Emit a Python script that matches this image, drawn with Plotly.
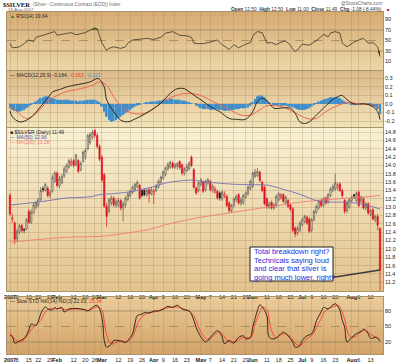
import plotly.graph_objects as go
import numpy as np

# ---------------- data ----------------
# x positions are trading-day indices (0 = 3-Jan-2007 ... 157 = 17-Aug-2007)
tick_idx = [0, 3, 8, 12, 17, 20, 27, 32, 36, 39, 46, 51, 56, 61, 65, 70, 75, 81, 85, 90, 95, 100,
            103, 109, 114, 119, 124, 128, 133, 138, 145, 148, 153]
tick_txt = ['<b>2007</b>', '8', '15', '22', '29', '<b>Feb</b>', '12', '20', '26', '<b>Mar</b>', '12', '19', '26',
            '<b>Apr</b>', '9', '16', '23', '<b>May</b>', '7', '14', '21', '29', '<b>Jun</b>', '11', '18', '25',
            '<b>Jul</b>', '9', '16', '23', '<b>Aug</b>', '6', '13']

open_ = [13.28, 12.70, 12.62, 12.25, 12.40, 12.56, 12.47, 12.48, 12.90, 12.64,
         12.86, 13.00, 13.05, 13.18, 13.45, 13.40, 13.46, 13.28, 13.38, 13.62,
         13.82, 13.52, 13.58, 13.75, 13.85, 13.96, 14.02, 14.12, 14.02, 14.12,
         13.90, 14.10, 14.20, 14.40, 14.55, 14.68, 14.84, 14.72, 14.46, 14.20,
         13.78, 13.02, 12.90, 13.10, 13.22, 13.04, 13.05, 13.16, 12.98, 13.05,
         13.18, 13.28, 13.36, 13.42, 13.50, 13.52, 13.40, 13.40, 13.30, 13.42,
         13.32, 13.30, 13.40, 13.48, 13.60, 13.70, 13.78, 13.92, 13.96, 14.06,
         13.96, 13.98, 14.10, 14.02, 13.80, 13.88, 13.92, 14.20, 13.90, 13.46,
         13.40, 13.55, 13.60, 13.42, 13.58, 13.62, 13.40, 13.36, 13.38, 13.34,
         13.20, 13.26, 13.26, 13.10, 12.92, 13.04, 13.18, 13.30, 13.10, 13.10,
         13.24, 13.32, 13.44, 13.50, 13.74, 13.76, 13.84, 13.60, 13.48, 13.20,
         13.00, 13.12, 12.98, 13.05, 13.18, 13.22, 13.30, 13.10, 13.16, 13.05,
         12.96, 12.50, 12.38, 12.45, 12.58, 12.66, 12.76, 12.72, 12.45, 12.70,
         12.88, 12.98, 13.16, 13.04, 13.22, 13.12, 13.28, 13.40, 13.44, 13.46,
         13.56, 13.40, 13.16, 12.92, 13.00, 13.16, 13.30, 13.16, 13.36, 13.14,
         13.20, 12.98, 13.08, 12.82, 12.94, 12.70, 12.78, 12.50]
high_ = [13.34, 12.85, 12.66, 12.48, 12.60, 12.60, 12.50, 12.74, 12.95, 12.95,
         13.12, 13.15, 13.22, 13.48, 13.50, 13.58, 13.50, 13.42, 13.78, 13.86,
         13.86, 13.75, 13.80, 13.98, 14.05, 14.16, 14.18, 14.16, 14.28, 14.15,
         14.10, 14.36, 14.42, 14.76, 14.80, 14.86, 14.88, 14.78, 14.50, 14.25,
         13.82, 13.10, 13.22, 13.28, 13.26, 13.20, 13.22, 13.20, 13.14, 13.26,
         13.36, 13.42, 13.52, 13.58, 13.64, 13.56, 13.44, 13.45, 13.44, 13.46,
         13.48, 13.45, 13.55, 13.66, 13.76, 13.88, 13.98, 14.08, 14.12, 14.10,
         14.06, 14.08, 14.12, 14.05, 13.96, 14.04, 14.10, 14.24, 13.94, 13.50,
         13.62, 13.70, 13.64, 13.66, 13.70, 13.66, 13.55, 13.50, 13.42, 13.38,
         13.40, 13.38, 13.30, 13.14, 13.08, 13.24, 13.30, 13.34, 13.24, 13.32,
         13.38, 13.52, 13.66, 13.86, 13.92, 13.94, 13.88, 13.64, 13.52, 13.24,
         13.14, 13.16, 13.10, 13.30, 13.36, 13.34, 13.34, 13.28, 13.20, 13.08,
         13.00, 12.54, 12.55, 12.66, 12.75, 12.82, 12.80, 12.76, 12.74, 12.94,
         13.06, 13.18, 13.20, 13.24, 13.26, 13.34, 13.48, 13.55, 13.80, 13.60,
         13.60, 13.44, 13.20, 13.16, 13.22, 13.28, 13.32, 13.38, 13.40, 13.28,
         13.24, 13.12, 13.12, 12.96, 12.98, 12.82, 12.84, 12.50]
low_ = [12.80, 12.62, 12.11, 12.18, 12.36, 12.40, 12.38, 12.45, 12.60, 12.60,
        12.84, 12.95, 13.00, 13.15, 13.36, 13.38, 13.24, 13.22, 13.35, 13.58,
        13.48, 13.45, 13.55, 13.70, 13.82, 13.92, 13.98, 13.95, 13.98, 13.82,
        13.86, 14.06, 14.14, 14.36, 14.50, 14.62, 14.66, 14.40, 14.10, 13.60,
        12.98, 12.52, 12.85, 13.04, 13.00, 12.98, 13.00, 12.92, 12.66, 13.00,
        13.15, 13.24, 13.32, 13.38, 13.45, 13.18, 13.24, 13.26, 13.25, 13.10,
        13.28, 13.08, 13.36, 13.45, 13.56, 13.66, 13.74, 13.88, 13.92, 13.92,
        13.92, 13.90, 13.90, 13.76, 13.76, 13.84, 13.88, 13.96, 13.44, 13.30,
        13.36, 13.50, 13.34, 13.38, 13.52, 13.38, 13.35, 13.32, 13.18, 13.16,
        13.15, 13.22, 13.00, 12.86, 12.86, 13.00, 13.12, 13.06, 13.04, 13.06,
        13.20, 13.28, 13.40, 13.46, 13.70, 13.72, 13.60, 13.36, 13.04, 12.96,
        12.96, 12.94, 12.94, 13.00, 13.14, 13.18, 13.10, 13.06, 12.98, 12.90,
        12.40, 12.28, 12.32, 12.40, 12.54, 12.62, 12.58, 12.38, 12.40, 12.66,
        12.84, 12.94, 13.00, 13.00, 13.06, 13.08, 13.24, 13.36, 13.40, 13.40,
        13.36, 13.22, 12.84, 12.86, 12.96, 13.12, 13.20, 13.12, 13.00, 13.10,
        12.94, 12.92, 12.82, 12.78, 12.68, 12.64, 12.44, 11.00]
close_ = [12.84, 12.76, 12.23, 12.42, 12.55, 12.44, 12.45, 12.70, 12.64, 12.88,
          13.05, 13.10, 13.18, 13.40, 13.42, 13.55, 13.28, 13.36, 13.72, 13.82,
          13.52, 13.68, 13.74, 13.92, 14.00, 14.12, 14.10, 14.00, 14.25, 13.86,
          14.05, 14.32, 14.36, 14.72, 14.75, 14.80, 14.72, 14.46, 14.15, 13.65,
          13.02, 12.78, 13.18, 13.22, 13.06, 13.14, 13.16, 12.98, 13.08, 13.22,
          13.32, 13.38, 13.48, 13.55, 13.60, 13.22, 13.28, 13.30, 13.40, 13.32,
          13.42, 13.40, 13.50, 13.62, 13.72, 13.85, 13.95, 14.02, 14.08, 13.96,
          14.02, 14.05, 13.95, 13.82, 13.92, 13.98, 14.05, 14.00, 13.48, 13.34,
          13.58, 13.65, 13.38, 13.62, 13.66, 13.42, 13.50, 13.44, 13.22, 13.22,
          13.36, 13.32, 13.04, 12.92, 13.04, 13.20, 13.26, 13.10, 13.18, 13.28,
          13.34, 13.48, 13.62, 13.82, 13.84, 13.86, 13.64, 13.40, 13.08, 13.02,
          13.08, 12.98, 13.06, 13.26, 13.32, 13.30, 13.14, 13.24, 13.02, 12.95,
          12.45, 12.36, 12.50, 12.62, 12.70, 12.78, 12.62, 12.42, 12.70, 12.90,
          13.02, 13.14, 13.04, 13.20, 13.10, 13.30, 13.44, 13.50, 13.58, 13.54,
          13.40, 13.28, 12.90, 13.10, 13.18, 13.24, 13.27, 13.34, 13.04, 13.24,
          12.98, 13.08, 12.86, 12.92, 12.72, 12.78, 12.57, 11.49]

ma50_x = [0, 14, 24, 34, 38, 45, 52, 60, 66, 72, 78, 81, 88, 95, 102, 109, 116, 123, 130, 137, 144, 151, 157]
ma50_y = [13.05, 13.14, 13.22, 13.25, 13.30, 13.33, 13.38, 13.48, 13.58, 13.63, 13.65, 13.62, 13.58, 13.55,
          13.54, 13.53, 13.43, 13.31, 13.16, 13.12, 13.12, 13.05, 12.96]
ma200_x = [0, 24, 38, 52, 60, 66, 74, 81, 88, 95, 102, 109, 116, 123, 130, 137, 144, 151, 157]
ma200_y = [12.16, 12.28, 12.30, 12.40, 12.48, 12.58, 12.68, 12.76, 12.82, 12.88, 12.94, 13.00, 13.06, 13.12,
           13.16, 13.19, 13.22, 13.25, 13.28]

rsi_x = [0, 1, 3, 4, 6, 8, 10, 11, 14, 17, 19, 20, 23, 25, 26, 28, 30, 32, 34, 36, 37, 38, 39, 41, 42, 44,
         47, 49, 50, 52, 55, 58, 61, 64, 66, 69, 72, 75, 77, 78, 80, 82, 85, 88, 90, 93, 95, 97, 100, 102,
         103, 104, 105, 107, 108, 109, 111, 113, 115, 117, 119, 120, 121, 122, 124, 127, 129, 131, 133, 135,
         136, 138, 140, 141, 143, 146, 148, 150, 152, 154, 156, 157]
rsi_y = [45, 36, 37, 38, 44, 51, 48, 56, 60, 64, 67, 60, 62, 63, 65, 61, 63, 65, 70, 74, 72, 60, 45, 31, 35, 38,
         35, 38, 45, 51, 52, 54, 52, 56, 64, 67, 60, 59, 56, 45, 44, 44, 47, 51, 42, 33, 42, 36, 43, 46,
         58, 64, 67, 65, 55, 45, 46, 42, 47, 49, 41, 33, 29, 32, 43, 41, 47, 53, 62, 57,
         64, 67, 64, 45, 38, 47, 51, 54, 45, 46, 38, 19.64]

macd_x = [0, 1, 4, 7, 10, 13, 16, 18, 21, 24, 27, 31, 34, 37, 38, 40, 41, 44, 47, 50, 52, 55, 59, 64, 68, 71,
          74, 76, 79, 81, 85, 89, 93, 96, 100, 103, 105, 107, 110, 112, 116, 119, 121, 123, 125, 127, 130,
          133, 136, 139, 141, 143, 146, 149, 151, 154, 156, 157]
macd_y = [-0.08, -0.15, -0.21, -0.19, -0.13, -0.03, 0.07, 0.14, 0.17, 0.20, 0.22, 0.24, 0.26, 0.30, 0.29,
          0.20, 0.05, -0.09, -0.19, -0.21, -0.19, -0.15, -0.09, 0.01, 0.125, 0.18, 0.18, 0.145, 0.085, 0.05,
          -0.03, -0.09, -0.17, -0.18, -0.18, -0.09, 0.03, 0.07, 0.01, -0.05, -0.045, -0.05, -0.11, -0.21,
          -0.23, -0.21, -0.13, -0.05, 0.03, 0.085, 0.10, 0.05, 0.0, 0.0, 0.0, -0.03, -0.09, -0.184]
sig_x = [0, 3, 7, 11, 16, 20, 24, 30, 35, 38, 41, 44, 48, 52, 57, 61, 65, 69, 75, 81, 86, 92, 98, 102, 106,
         109, 115, 120, 126, 130, 134, 139, 143, 149, 154, 157]
sig_y = [-0.03, -0.09, -0.17, -0.11, 0.03, 0.10, 0.145, 0.18, 0.22, 0.26, 0.22, 0.085, -0.05, -0.11, -0.11,
         -0.05, 0.03, 0.085, 0.125, 0.10, 0.03, -0.05, -0.13, -0.13, -0.07, -0.02, -0.03, -0.09, -0.17, -0.17,
         -0.09, -0.02, 0.015, 0.0, -0.01, -0.063]
hist_y = [-0.05, -0.07, -0.08, -0.09, -0.09, -0.08, -0.07, -0.05, -0.03, -0.01,
          0.01, 0.03, 0.05, 0.07, 0.08, 0.09, 0.09, 0.08, 0.07, 0.06,
          0.05, 0.05, 0.05, 0.05, 0.05, 0.05, 0.04, 0.04, 0.04, 0.03,
          0.04, 0.04, 0.04, 0.05, 0.05, 0.05, 0.05, 0.04, 0.02, -0.03,
          -0.09, -0.15, -0.19, -0.21, -0.20, -0.19, -0.17, -0.15, -0.13, -0.11,
          -0.09, -0.07, -0.05, -0.03, -0.02, -0.01, 0.0, 0.01, 0.02, 0.02,
          0.03, 0.03, 0.03, 0.04, 0.04, 0.05, 0.05, 0.05, 0.06, 0.06,
          0.05, 0.05, 0.05, 0.04, 0.04, 0.03, 0.02, 0.01, 0.0, -0.02,
          -0.03, -0.05, -0.06, -0.06, -0.06, -0.07, -0.07, -0.06, -0.06, -0.07,
          -0.07, -0.08, -0.08, -0.08, -0.07, -0.07, -0.06, -0.06, -0.05, -0.05,
          -0.05, -0.04, -0.02, 0.02, 0.06, 0.09, 0.10, 0.10, 0.08, 0.05,
          0.02, 0.0, -0.01, -0.01, -0.02, -0.02, -0.02, -0.02, -0.03, -0.03,
          -0.04, -0.05, -0.06, -0.07, -0.07, -0.07, -0.06, -0.05, -0.03, -0.01,
          0.01, 0.03, 0.04, 0.05, 0.06, 0.07, 0.08, 0.08, 0.08, 0.08,
          0.07, 0.05, 0.03, 0.01, 0.0, -0.01, -0.01, 0.0, 0.0, 0.01,
          0.01, 0.0, -0.01, -0.02, -0.03, -0.04, -0.06, -0.12]

stk_x = [0, 1, 2, 3, 4, 6, 8, 9, 11, 12, 13, 15, 16, 18, 19, 20, 22, 23, 25, 28, 30, 32, 33, 35, 37, 39, 40,
         41, 43, 44, 47, 49, 50, 52, 53, 54, 56, 57, 59, 61, 63, 65, 67, 69, 71, 73, 76, 77, 78, 79, 80, 81,
         83, 85, 87, 88, 89, 90, 91, 93, 94, 95, 97, 99, 100, 102, 103, 105, 106, 107, 109, 110, 112, 114,
         116, 118, 120, 121, 123, 124, 126, 128, 129, 130, 132, 133, 135, 136, 138, 139, 140, 141, 142, 143,
         145, 147, 149, 150, 151, 152, 153, 155, 156, 157]
stk_y = [33, 30, 18, 19, 22, 27, 43, 55, 52, 60, 74, 88, 84, 82, 87, 84, 87, 78, 84, 85, 84, 82, 80, 87, 91, 68,
         23, 10, 16, 23, 22, 19, 23, 36, 55, 71, 74, 77, 76, 80, 80, 84, 89, 87, 91, 84, 80, 74, 62, 48, 38,
         30, 20, 29, 39, 42, 38, 30, 17, 23, 20, 18, 29, 32, 26, 29, 49, 81, 92, 88, 71, 29, 26, 32, 39, 32,
         20, 10, 13, 23, 32, 36, 45, 61, 78, 87, 84, 88, 94, 90, 81, 62, 49, 20, 29, 36, 41, 45, 42, 36, 27,
         29, 27, 22.03]
std_x = [0, 2, 3, 5, 7, 9, 11, 13, 15, 17, 19, 21, 23, 25, 28, 31, 33, 35, 37, 39, 40, 41, 43, 45, 47, 49,
         51, 53, 54, 56, 58, 60, 62, 64, 66, 68, 70, 72, 74, 76, 78, 79, 80, 82, 84, 86, 88, 89, 91, 92, 94,
         96, 98, 100, 102, 103, 104, 106, 107, 109, 110, 111, 113, 115, 117, 119, 120, 122, 124, 126, 128,
         129, 130, 132, 133, 135, 137, 139, 140, 141, 142, 143, 144, 146, 148, 150, 152, 153, 155, 156, 157]
std_y = [38, 26, 22, 21, 30, 44, 53, 62, 78, 85, 84, 85, 83, 82, 84, 83, 81, 84, 88, 82, 60, 34, 16, 19, 22, 21,
         24, 40, 54, 69, 75, 77, 79, 82, 85, 87, 88, 87, 83, 80, 71, 61, 49, 32, 24, 30, 39, 40, 30, 23, 20,
         22, 27, 29, 28, 35, 55, 78, 87, 83, 62, 42, 28, 34, 36, 30, 24, 14, 16, 26, 33, 38, 48, 65, 76, 84,
         88, 91, 88, 78, 64, 44, 32, 29, 36, 42, 40, 35, 30, 28, 25.34]

# ---------------- helpers (pixel geometry of the layout) ----------------
W, H = 400, 362
XL, XR = 7, 383


def px(x):
    return (x - XL) / (XR - XL)


def py(y):
    return 1 - y / H


n = len(close_)
days = list(range(n))
prev = [open_[0]] + close_[:-1]
blk = [i for i in days if close_[i] >= prev[i]]
red = [i for i in days if close_[i] < prev[i]]

fig = go.Figure()

# ---- RSI panel (x, y) ----
rsi_arr = np.array(rsi_y, dtype=float)
fig.add_trace(go.Scatter(x=rsi_x, y=[70] * len(rsi_x), mode='lines', line=dict(width=0), xaxis='x', yaxis='y',
                         hoverinfo='skip'))
fig.add_trace(go.Scatter(x=rsi_x, y=np.maximum(rsi_arr, 70), mode='lines', line=dict(width=0), fill='tonexty',
                         fillcolor='#4f7d2c', xaxis='x', yaxis='y', hoverinfo='skip'))
fig.add_trace(go.Scatter(x=rsi_x, y=[30] * len(rsi_x), mode='lines', line=dict(width=0), xaxis='x', yaxis='y',
                         hoverinfo='skip'))
fig.add_trace(go.Scatter(x=rsi_x, y=np.minimum(rsi_arr, 30), mode='lines', line=dict(width=0), fill='tonexty',
                         fillcolor='#b0201a', xaxis='x', yaxis='y', hoverinfo='skip'))
fig.add_trace(go.Scatter(x=rsi_x, y=rsi_y, mode='lines', line=dict(color='#3a3428', width=0.8),
                         xaxis='x', yaxis='y'))

# ---- MACD panel (x2, y2) ----
fig.add_trace(go.Bar(x=days, y=hist_y, marker=dict(color='#3f8fcc', line=dict(width=0)), xaxis='x2', yaxis='y2'))
fig.add_trace(go.Scatter(x=sig_x, y=sig_y, mode='lines', line=dict(color='#f0584a', width=0.9, shape='spline'),
                         xaxis='x2', yaxis='y2'))
fig.add_trace(go.Scatter(x=macd_x, y=macd_y, mode='lines', line=dict(color='#1e1a14', width=0.9, shape='spline'),
                         xaxis='x2', yaxis='y2'))

# ---- Price panel (x3, y3) ----
fig.add_trace(go.Scatter(x=ma200_x, y=ma200_y, mode='lines', line=dict(color='#f07c74', width=0.9, shape='spline'),
                         xaxis='x3', yaxis='y3'))
fig.add_trace(go.Scatter(x=ma50_x, y=ma50_y, mode='lines', line=dict(color='#7272b4', width=0.9, shape='spline'),
                         xaxis='x3', yaxis='y3'))
fig.add_trace(go.Candlestick(
    x=blk, open=[open_[i] for i in blk], high=[high_[i] for i in blk], low=[low_[i] for i in blk],
    close=[close_[i] for i in blk], xaxis='x3', yaxis='y3', whiskerwidth=0,
    increasing=dict(line=dict(color='#5a5448', width=0.7), fillcolor='#fbf8ee'),
    decreasing=dict(line=dict(color='#1a1a1a', width=0.7), fillcolor='#1a1a1a')))
fig.add_trace(go.Candlestick(
    x=red, open=[open_[i] for i in red], high=[high_[i] for i in red], low=[low_[i] for i in red],
    close=[close_[i] for i in red], xaxis='x3', yaxis='y3', whiskerwidth=0,
    increasing=dict(line=dict(color='#e0202a', width=0.7), fillcolor='#fbf8ee'),
    decreasing=dict(line=dict(color='#e0101e', width=0.7), fillcolor='#e0101e')))

# ---- Stochastics panel (x4, y4) ----
fig.add_trace(go.Scatter(x=std_x, y=std_y, mode='lines', line=dict(color='#ff3b2a', width=0.9, shape='spline'),
                         xaxis='x4', yaxis='y4'))
fig.add_trace(go.Scatter(x=stk_x, y=stk_y, mode='lines', line=dict(color='#1e1a14', width=0.9, shape='spline'),
                         xaxis='x4', yaxis='y4'))

# ---------------- layout ----------------
xr = [(XL - 10) / 2.357, 157 + (XR - 380) / 2.357]
grid = 'rgba(150,125,80,0.26)'
frame = '#a8946c'


def xax(dom_anchor, labels):
    return dict(range=xr, tickvals=tick_idx, ticktext=tick_txt, showticklabels=labels, showgrid=True,
                gridcolor=grid, gridwidth=0.6, zeroline=False, showline=True, linecolor=frame, linewidth=0.8,
                mirror=True, ticks='', ticklen=0, tickangle=0, ticklabeloverflow='allow',
                tickfont=dict(family='Liberation Sans, Arial', size=5.5, color='#222'),
                anchor=dom_anchor, automargin=False, rangeslider=dict(visible=False), fixedrange=True,
                domain=[0, 1])


def yax(dom, rng, tv, tt, showgrid, anchor):
    return dict(domain=dom, range=rng, tickvals=tv, ticktext=tt, side='right', showgrid=showgrid,
                gridcolor=grid, gridwidth=0.6, zeroline=False, showline=True, linecolor=frame, linewidth=0.8,
                mirror=True, ticks='', ticklen=0, ticklabeloverflow='allow',
                tickfont=dict(family='Liberation Sans, Arial', size=5.5, color='#222'),
                anchor=anchor, automargin=False, fixedrange=True)


price_ticks = [round(11.2 + 0.2 * k, 1) for k in range(19)]
fig.update_layout(
    width=W, height=H, margin=dict(l=XL, r=W - XR, t=0, b=0), showlegend=False,
    paper_bgcolor='white', plot_bgcolor='rgba(0,0,0,0)', bargap=0.18, boxgap=0.25,
    xaxis=xax('y', False), xaxis2=xax('y2', False), xaxis3=xax('y3', True), xaxis4=xax('y4', True),
    yaxis=yax([py(70), py(12)], [-6.2, 104.3], [10, 30, 50, 70, 90], ['10', '30', '50', '70', '90'], False, 'x'),
    yaxis2=yax([py(127), py(71)], [-0.2706, 0.388], [-0.2, -0.1, 0, 0.1, 0.2, 0.3],
               ['-0.2', '-0.1', '0.0', '0.1', '0.2', '0.3'], True, 'x2'),
    yaxis3=yax([py(291), py(128)], [10.99, 14.90], price_ticks, ['%.1f' % v for v in price_ticks], True, 'x3'),
    yaxis4=yax([py(354), py(297)], [-3.2, 107.1], [20, 50, 80], ['20', '50', '80'], False, 'x4'),
)

# ---- panel backgrounds (vertical gradients) ----
shapes = []


def hexrgb(h):
    return [int(h[i:i + 2], 16) for i in (1, 3, 5)]


for (y0, y1, ct, cb) in [(12, 70, '#d6ab72', '#ecd6a6'), (71, 127, '#dcb987', '#f2e3ba'),
                         (128, 291, '#f8f1d4', '#e3c38d'), (297, 354, '#eacb97', '#d4a369')]:
    a, b = hexrgb(ct), hexrgb(cb)
    N = 28
    for k in range(N):
        t = (k + 0.5) / N
        c = [round(a[j] + (b[j] - a[j]) * t) for j in range(3)]
        ya = y0 + (y1 - y0) * k / N
        yb = y0 + (y1 - y0) * (k + 1) / N + 0.6
        shapes.append(dict(type='rect', xref='paper', yref='paper', x0=0, x1=1, y0=py(min(yb, y1)), y1=py(ya),
                           line=dict(width=0), fillcolor='rgb(%d,%d,%d)' % tuple(c), layer='below'))

# RSI / stochastic reference lines
for ax, v, dash in [('y', 70, 'solid'), ('y', 30, 'solid'), ('y', 50, 'dash'),
                    ('y4', 80, 'solid'), ('y4', 20, 'solid'), ('y4', 50, 'dash')]:
    xa = 'x' if ax == 'y' else 'x4'
    shapes.append(dict(type='line', xref=xa + ' domain', yref=ax, x0=0, x1=1, y0=v, y1=v,
                       line=dict(color='#9a8660', width=0.8, dash=dash), layer='below'))

# note box + pointer line
shapes.append(dict(type='rect', xref='paper', yref='paper', x0=px(250), x1=px(333), y0=py(281), y1=py(247),
                   fillcolor='white', line=dict(color='#202020', width=1), layer='above'))
shapes.append(dict(type='line', xref='paper', yref='paper', x0=px(332), y0=py(277.5), x1=px(380), y1=py(270),
                   line=dict(color='#3a3a3a', width=1.3), layer='above'))
fig.update_layout(shapes=shapes)

ann = []


def txt(x, y, s, size=5.5, color='#2a2620', family='Liberation Sans, Arial', xanchor='left'):
    ann.append(dict(xref='paper', yref='paper', x=px(x), y=py(y), text=s, showarrow=False, xanchor=xanchor,
                    yanchor='middle', font=dict(family=family, size=size, color=color)))


# header
txt(1, 4.5, '<b>$SILVER</b>', size=6.5, color='#111', family='Liberation Serif, Times New Roman')
txt(31, 4.5, '(Silver - Continuous Contract (EOD)) Index', size=4.6, color='#6a6a6a')
txt(6, 9.3, '18-Aug-2007', size=4.4, color='#6a6a6a')
txt(384, 4.0, '@StockCharts.com', size=4.8, color='#6a6a6a', xanchor='right')
txt(384, 9.5, '<b>Open</b> 12.50  <b>High</b> 12.50  <b>Low</b> 11.00  <b>Close</b> 11.49  <b>Chg</b> -1.08 (-8.44%)',
    size=4.8, color='#333', xanchor='right')
txt(385.5, 9.5, '■', size=4, color='#c01010')

# panel legends
txt(8, 16.0, '<span style="color:#3f6a22">▲</span> RSI(14) 19.64', size=5)
txt(8, 74.5, '— MACD(12,26,9) -0.184, <span style="color:#e8402c">-0.063</span>, '
             '<span style="color:#3f8fcc">-0.121</span>', size=5)
txt(8, 131.5, '■ $SILVER (Daily) 11.49', size=5)
txt(8, 136.8, '<span style="color:#5050a8">— MA(50) 12.96</span>', size=5)
txt(8, 142.1, '<span style="color:#f07c74">— MA(200) 13.28</span>', size=5)
txt(8, 300.5, '— Slow STO %K(14) %D(3) 22.03, <span style="color:#ff3b2a">25.34</span>', size=5)

# note text
for k, line in enumerate(['Total breakdown right?', 'Technicals saying loud', 'and clear that silver is',
                          'going much lower, right?']):
    txt(251.5, 251.8 + k * 8.4, line, size=7.5, color='#2b2bdc')

fig.update_layout(annotations=ann)
fig.write_html('out.html', config={'displayModeBar': False},
               post_script="document.body.style.margin='0';document.body.style.padding='0';"
                           "document.body.style.overflow='hidden';")
